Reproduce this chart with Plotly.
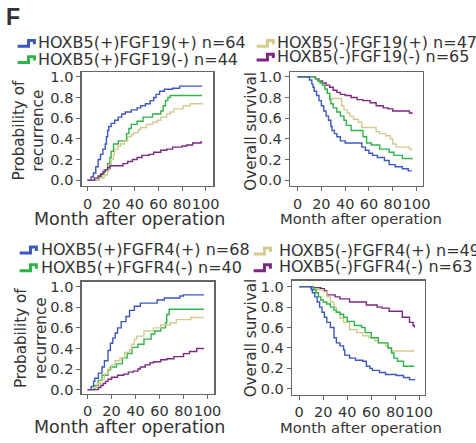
import plotly.graph_objects as go

W, H = 476, 443

# ---------------- data (months, cumulative values) ----------------
# Panel 1: recurrence, FGF19
rec19_blue_t = [0,3,5,7,9,11,13,15,16,17,18,20,23,26,29,32,37,42,45,49,53,56,58,61,65,72,78,97]
rec19_blue_v = [0,0.03,0.07,0.13,0.2,0.25,0.3,0.35,0.42,0.48,0.52,0.55,0.58,0.61,0.64,0.66,0.68,0.70,0.72,0.74,0.77,0.80,0.83,0.86,0.88,0.89,0.91,0.91]
rec19_green_t = [0,10,12,14,17,19,20,22,26,33,35,37,42,47,55,62,64,66,68,70,97]
rec19_green_v = [0,0.03,0.06,0.1,0.16,0.22,0.28,0.35,0.38,0.45,0.5,0.54,0.57,0.61,0.64,0.67,0.72,0.77,0.8,0.82,0.82]
rec19_yellow_t = [0,10,14,17,19,20,22,23,26,28,31,34,37,39,43,45,50,55,59,62,67,70,73,81,87,97]
rec19_yellow_v = [0,0.02,0.05,0.1,0.15,0.2,0.25,0.3,0.33,0.35,0.38,0.42,0.44,0.46,0.49,0.51,0.54,0.56,0.58,0.61,0.64,0.66,0.69,0.72,0.74,0.75]
rec19_purple_t = [0,6,9,11,13,15,17,19,30,34,38,42,46,52,56,62,67,72,80,84,89,96,97]
rec19_purple_v = [0,0.02,0.04,0.06,0.08,0.1,0.12,0.14,0.16,0.18,0.2,0.22,0.24,0.25,0.27,0.29,0.3,0.32,0.33,0.34,0.36,0.37,0.37]

# Panel 2: overall survival, FGF19
os19_blue_t = [0,10,12,13,14,16,18,20,22,24,26,28,29,31,33,36,40,54,57,60,63,67,73,77,82,88,93,96]
os19_blue_v = [1,0.97,0.93,0.9,0.86,0.82,0.77,0.72,0.67,0.62,0.58,0.52,0.48,0.45,0.42,0.38,0.36,0.32,0.29,0.26,0.24,0.22,0.19,0.15,0.13,0.11,0.09,0.09]
os19_green_t = [0,15,17,19,21,23,25,27,28,30,33,36,39,41,45,55,58,62,69,77,81,88,96]
os19_green_v = [1,0.98,0.96,0.94,0.92,0.88,0.84,0.78,0.74,0.7,0.66,0.62,0.58,0.53,0.48,0.42,0.36,0.34,0.3,0.27,0.24,0.21,0.2]
os19_yellow_t = [0,15,17,19,21,23,25,27,37,39,42,44,47,51,54,66,69,74,78,80,83,94,96]
os19_yellow_v = [1,0.98,0.96,0.94,0.92,0.88,0.84,0.79,0.72,0.68,0.65,0.62,0.59,0.56,0.51,0.47,0.45,0.43,0.4,0.35,0.32,0.3,0.29]
os19_purple_t = [0,15,18,21,24,27,30,33,36,40,45,50,55,61,66,72,76,80,94,96]
os19_purple_v = [1,0.98,0.96,0.94,0.92,0.9,0.87,0.85,0.83,0.82,0.8,0.78,0.77,0.75,0.72,0.7,0.69,0.67,0.65,0.64]

# Panel 3: recurrence, FGFR4
recR4_blue_t = [0,3,5,6,9,12,14,17,19,21,23,25,28,32,35,39,44,58,64,77,80,97]
recR4_blue_v = [0,0.03,0.08,0.11,0.16,0.22,0.28,0.38,0.45,0.5,0.55,0.6,0.66,0.71,0.77,0.81,0.84,0.87,0.89,0.91,0.92,0.92]
recR4_green_t = [0,6,9,12,17,19,24,29,33,37,42,47,53,56,61,65,66,68,97]
recR4_green_v = [0,0.04,0.09,0.14,0.19,0.22,0.25,0.31,0.35,0.41,0.44,0.49,0.54,0.57,0.6,0.65,0.73,0.78,0.78]
recR4_yellow_t = [0,5,8,11,14,17,20,23,27,31,35,37,39,41,47,55,61,69,74,86,97]
recR4_yellow_v = [0,0.02,0.06,0.1,0.15,0.2,0.24,0.28,0.31,0.36,0.39,0.44,0.49,0.52,0.57,0.6,0.63,0.65,0.68,0.7,0.7]
recR4_purple_t = [0,9,11,13,15,17,20,25,30,34,38,42,44,48,52,55,61,66,72,80,85,91,97]
recR4_purple_v = [0,0.02,0.04,0.06,0.08,0.1,0.12,0.14,0.15,0.17,0.18,0.2,0.22,0.24,0.26,0.27,0.29,0.3,0.32,0.35,0.37,0.4,0.4]

# Panel 4: overall survival, FGFR4
osR4_blue_t = [0,10,11,13,15,17,19,21,23,26,29,31,34,37,38,42,47,53,56,59,61,67,72,81,87,92,96]
osR4_blue_v = [1,0.97,0.94,0.9,0.85,0.8,0.75,0.7,0.65,0.6,0.5,0.45,0.42,0.38,0.33,0.3,0.28,0.27,0.22,0.2,0.18,0.16,0.14,0.13,0.11,0.09,0.08]
osR4_green_t = [0,12,14,16,18,20,23,26,29,31,34,37,40,46,52,55,60,66,74,77,79,82,87,96]
osR4_green_v = [1,0.97,0.94,0.9,0.87,0.85,0.83,0.8,0.77,0.75,0.73,0.7,0.66,0.62,0.6,0.55,0.5,0.45,0.4,0.35,0.3,0.27,0.22,0.22]
osR4_yellow_t = [0,12,15,20,23,26,29,31,34,37,42,48,53,58,63,66,72,74,77,96]
osR4_yellow_v = [1,0.98,0.97,0.95,0.9,0.85,0.8,0.75,0.69,0.65,0.58,0.55,0.52,0.5,0.47,0.45,0.42,0.4,0.37,0.37]
osR4_purple_t = [0,10,18,21,23,30,34,42,56,65,69,75,86,92,95,96]
osR4_purple_v = [1,0.99,0.98,0.96,0.92,0.9,0.88,0.85,0.82,0.8,0.79,0.76,0.7,0.65,0.62,0.6]

legend_top_left = ["HOXB5(+)FGF19(+) n=64", "HOXB5(+)FGF19(-) n=44"]
legend_top_right = ["HOXB5(-)FGF19(+) n=47", "HOXB5(-)FGF19(-) n=65"]
legend_bot_left = ["HOXB5(+)FGFR4(+) n=68", "HOXB5(+)FGFR4(-) n=40"]
legend_bot_right = ["HOXB5(-)FGFR4(+) n=49", "HOXB5(-)FGFR4(-) n=63"]

x_ticks = [0, 20, 40, 60, 80, 100]
y_ticks = [0, 0.2, 0.4, 0.6, 0.8, 1.0]

BLUE = "#3d57c2"
GREEN = "#2fb34a"
KHAKI = "#d3cb8e"
PURPLE = "#7c2784"
TEXT = "#333333"
FONT = "DejaVu Sans, Verdana, sans-serif"

def px_x(p):
    return p / W

def px_y(p):
    return 1 - p / H

fig = go.Figure()

panels = [
    ("x", "y", [(rec19_blue_t, rec19_blue_v, BLUE), (rec19_green_t, rec19_green_v, GREEN),
                (rec19_yellow_t, rec19_yellow_v, KHAKI), (rec19_purple_t, rec19_purple_v, PURPLE)]),
    ("x2", "y2", [(os19_purple_t, os19_purple_v, PURPLE), (os19_yellow_t, os19_yellow_v, KHAKI),
                  (os19_green_t, os19_green_v, GREEN), (os19_blue_t, os19_blue_v, BLUE)]),
    ("x3", "y3", [(recR4_blue_t, recR4_blue_v, BLUE), (recR4_green_t, recR4_green_v, GREEN),
                  (recR4_yellow_t, recR4_yellow_v, KHAKI), (recR4_purple_t, recR4_purple_v, PURPLE)]),
    ("x4", "y4", [(osR4_purple_t, osR4_purple_v, PURPLE), (osR4_yellow_t, osR4_yellow_v, KHAKI),
                  (osR4_green_t, osR4_green_v, GREEN), (osR4_blue_t, osR4_blue_v, BLUE)]),
]
for xa, ya, series in panels:
    for t, v, c in series:
        fig.add_trace(go.Scatter(x=t, y=v, mode="lines", line=dict(color=c, width=1.4, shape="hv"),
                                 xaxis=xa, yaxis=ya, showlegend=False, hoverinfo="skip"))

TICK_SIZE = 14.5

def xax(dom, anchor, rng):
    return dict(domain=dom, anchor=anchor, range=rng, showline=True, linecolor="#666666", linewidth=1.3,
                mirror=True, ticks="outside", ticklen=4, tickcolor="#666666", tickwidth=1,
                tickvals=x_ticks, ticktext=[str(v) for v in x_ticks], tickangle=0,
                tickfont=dict(size=TICK_SIZE, color=TEXT, family=FONT), showgrid=False, zeroline=False,
                fixedrange=True)

def yax(dom, anchor, rng):
    return dict(domain=dom, anchor=anchor, range=rng, showline=True, linecolor="#666666", linewidth=1.3,
                mirror=True, ticks="outside", ticklen=4, tickcolor="#666666", tickwidth=1,
                tickvals=y_ticks, ticktext=["%.1f" % v for v in y_ticks],
                tickfont=dict(size=TICK_SIZE, color=TEXT, family=FONT), showgrid=False, zeroline=False,
                fixedrange=True)

fig.update_layout(
    width=W, height=H, margin=dict(l=0, r=0, t=0, b=0),
    paper_bgcolor="white", plot_bgcolor="white",
    xaxis=xax([px_x(83), px_x(217)], "y", [-5, 106.5]),
    yaxis=yax([px_y(186), px_y(70)], "x", [-0.057, 1.048]),
    xaxis2=xax([px_x(295), px_x(430)], "y2", [-6.3, 105.2]),
    yaxis2=yax([px_y(186), px_y(70)], "x2", [-0.057, 1.048]),
    xaxis3=xax([px_x(83), px_x(218)], "y3", [-5, 105.7]),
    yaxis3=yax([px_y(397), px_y(283)], "x3", [-0.04, 1.05]),
    xaxis4=xax([px_x(297), px_x(432)], "y4", [-6, 104.7]),
    yaxis4=yax([px_y(398), px_y(282)], "x4", [-0.058, 1.06]),
)

ann = []
def text(x, y, s, size=15.2, xanchor="left", angle=0, bold=False, family=FONT):
    ann.append(dict(x=px_x(x), y=px_y(y), xref="paper", yref="paper", text=("<b>%s</b>" % s) if bold else s,
                    showarrow=False, xanchor=xanchor, yanchor="middle", textangle=angle,
                    font=dict(size=size, color=TEXT, family=family)))

text(4, 14, "F", size=23, bold=True, family="Liberation Sans, Arial, sans-serif")

# axis titles
text(132, 219, "Month after operation", size=17.5, xanchor="center")
text(367, 219, "Month after operation", size=14.8, xanchor="center")
text(132, 431, "Month after operation", size=17.5, xanchor="center")
text(367, 431, "Month after operation", size=14.8, xanchor="center")
text(29, 130, "Probability of<br>recurrence", size=15.2, xanchor="center", angle=-90)
text(31, 340, "Probability of<br>recurrence", size=15.2, xanchor="center", angle=-90)
text(255, 130, "Overall survival", size=15.2, xanchor="center", angle=-90)
text(255, 340, "Overall survival", size=15.2, xanchor="center", angle=-90)

shapes = []
def icon(x0, yc, color):
    pts = [(x0, yc + 3), (x0 + 11, yc + 3), (x0 + 11, yc - 3), (x0 + 17, yc - 3), (x0 + 17, yc + 1)]
    path = "M " + " L ".join("%f,%f" % (px_x(a), px_y(b)) for a, b in pts)
    shapes.append(dict(type="path", path=path, xref="paper", yref="paper",
                       line=dict(color=color, width=3)))

LEG_SIZE = 16
legends = [
    (18, 37, [41, 57.5], [40, 57], legend_top_left, [BLUE, GREEN]),
    (261, 280, [41, 55], [40, 54], legend_top_right, [KHAKI, PURPLE]),
    (20, 40, [251, 269], [250, 269], legend_bot_left, [BLUE, GREEN]),
    (258, 282, [252, 269], [251, 268], legend_bot_right, [KHAKI, PURPLE]),
]
for ix, tx, iys, tys, labels, colors in legends:
    for iy, ty, lab, col in zip(iys, tys, labels, colors):
        icon(ix, iy, col)
        text(tx, ty, lab, size=LEG_SIZE)

fig.update_layout(annotations=ann, shapes=shapes)
fig.write_html("out.html", config={"staticPlot": True},
               post_script="document.body.style.margin='0';document.body.style.overflow='hidden';")
